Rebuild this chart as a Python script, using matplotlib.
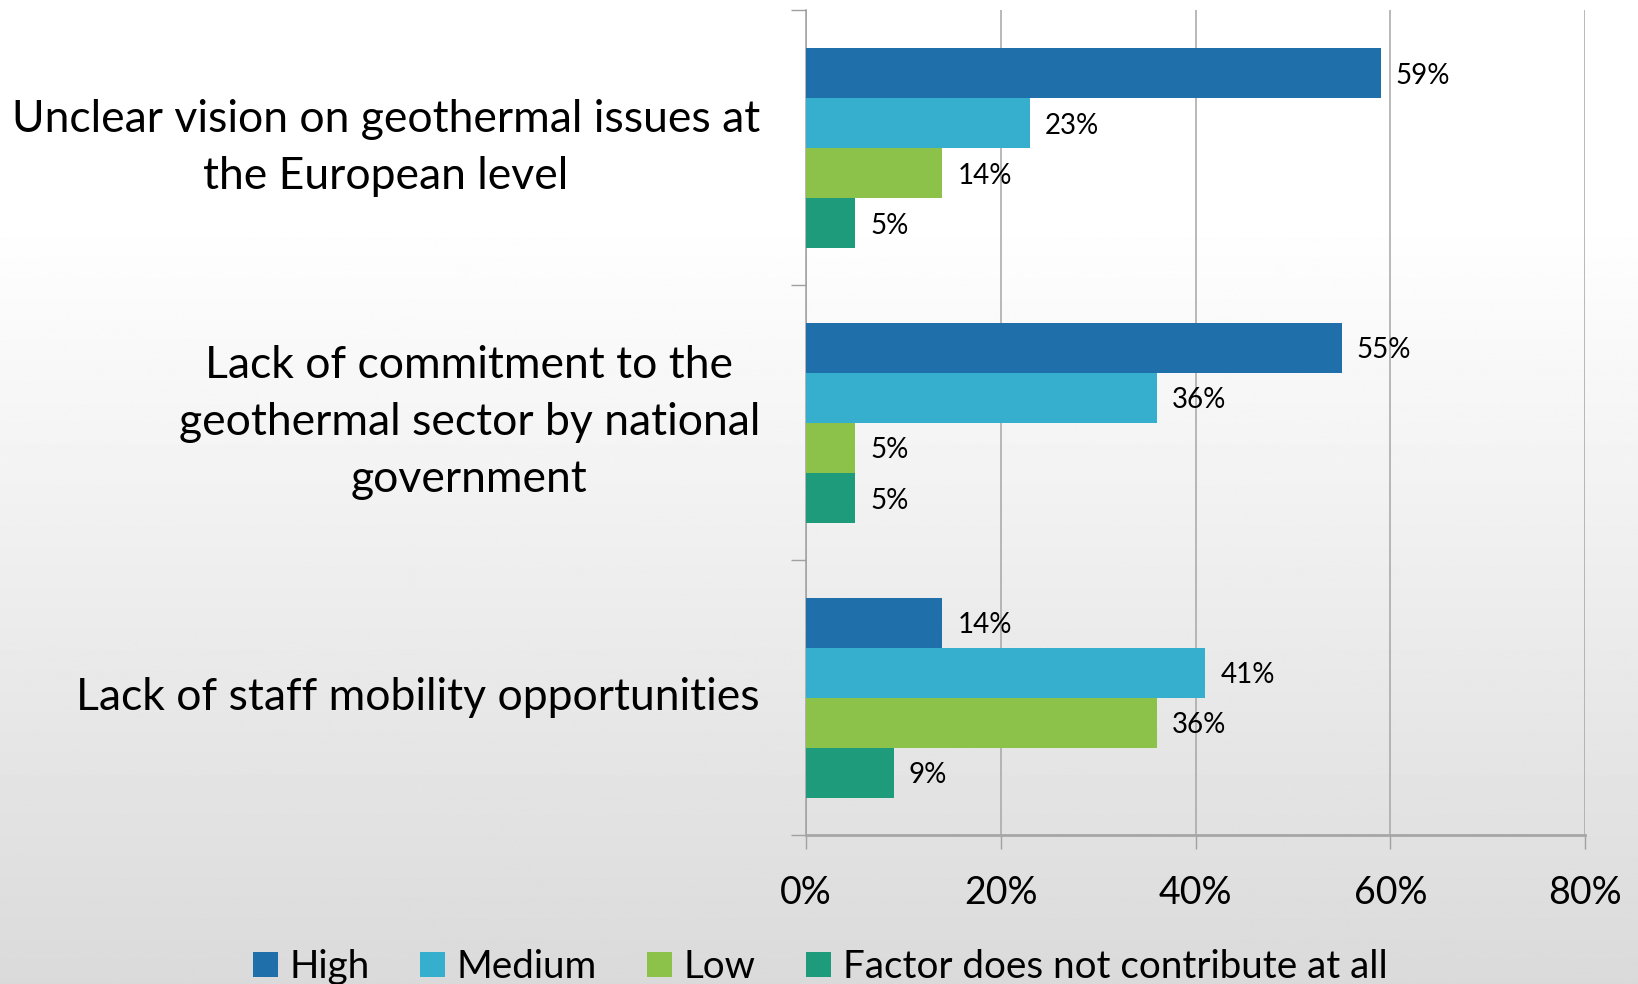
import numpy as np
import matplotlib
matplotlib.use("Agg")
import matplotlib.pyplot as plt
from matplotlib.patches import Patch

plt.rcParams['font.family'] = ['Lato', 'DejaVu Sans']

categories = [
    "Unclear vision on geothermal issues at\nthe European level",
    "Lack of commitment to the\ngeothermal sector by national\ngovernment",
    "Lack of staff mobility opportunities",
]
series_names = ["High", "Medium", "Low", "Factor does not contribute at all"]
high = [59, 55, 14]
medium = [23, 36, 41]
low = [14, 5, 36]
no_contribution = [5, 5, 9]
series_values = [high, medium, low, no_contribution]
colors = ["#1f6fab", "#36aece", "#8cc24a", "#1e9b7a"]
xticks = [0, 20, 40, 60, 80]
xtick_labels = ["0%", "20%", "40%", "60%", "80%"]

W, H = 1638, 984
fig = plt.figure(figsize=(W / 100, H / 100), dpi=100)

# background: white at top fading to light grey at the bottom
bg = fig.add_axes([0, 0, 1, 1], zorder=-10)
t = np.linspace(0, 1, 512)
shade = np.interp(t, [0.0, 0.22, 1.0], [1.0, 1.0, 0.855])
bg.imshow(np.repeat(shade[:, None], 2, axis=1), cmap="gray", vmin=0, vmax=1,
          aspect="auto", extent=[0, 1, 0, 1], origin="upper")
bg.set_axis_off()

left, right = 806 / W, 1585 / W
top, bottom = 1 - 10.4 / H, 1 - 835 / H
ax = fig.add_axes([left, bottom, right - left, top - bottom])
ax.set_facecolor("none")

n_cat = len(categories)
bar_h = 0.182
centers = np.arange(n_cat)
for i, (vals, col) in enumerate(zip(series_values, colors)):
    ypos = centers + (i - 1.5) * bar_h
    ax.barh(ypos, vals, height=bar_h, color=col, zorder=3, label=series_names[i])
    for y, v in zip(ypos, vals):
        ax.annotate(f"{v}%", (v, y), xytext=(11, -2), textcoords="offset points",
                    ha="left", va="center", fontsize=20, color="black", zorder=4)

ax.set_xlim(0, 80)
ax.set_ylim(n_cat - 0.5, -0.5)
ax.set_xticks(xticks)
ax.set_xticklabels(xtick_labels, fontsize=27)
ax.set_yticks(np.arange(n_cat + 1) - 0.5)
ax.set_yticklabels([])
ax.tick_params(axis="x", direction="out", length=10, width=1, color="#a0a0a0", pad=19)
ax.tick_params(axis="y", direction="out", length=11, width=1, color="#a0a0a0")
ax.xaxis.grid(True, color="#a6a6a6", linewidth=1.1, zorder=0)
ax.set_axisbelow(True)
for s in ["top", "right"]:
    ax.spines[s].set_visible(False)
ax.spines["left"].set_color("#a0a0a0")
ax.spines["left"].set_linewidth(1.1)
ax.spines["bottom"].set_color("#a6a6a6")
ax.spines["bottom"].set_linewidth(2)

for c, label in zip(centers, categories):
    ax.text(-46 / (779 / 80), c, label, ha="right", va="center",
            multialignment="center", fontsize=32, linespacing=1.48, color="black")

handles = [Patch(facecolor=col, edgecolor="none") for col in colors]
fig.legend(handles, series_names, loc="upper left", bbox_to_anchor=(253 / W, 1 - 949 / H),
           ncol=4, frameon=False, fontsize=27.8, handlelength=0.65, handleheight=0.65,
           handletextpad=0.3, columnspacing=1.3, borderpad=0, borderaxespad=0)

fig.savefig("out.png", dpi=100)
